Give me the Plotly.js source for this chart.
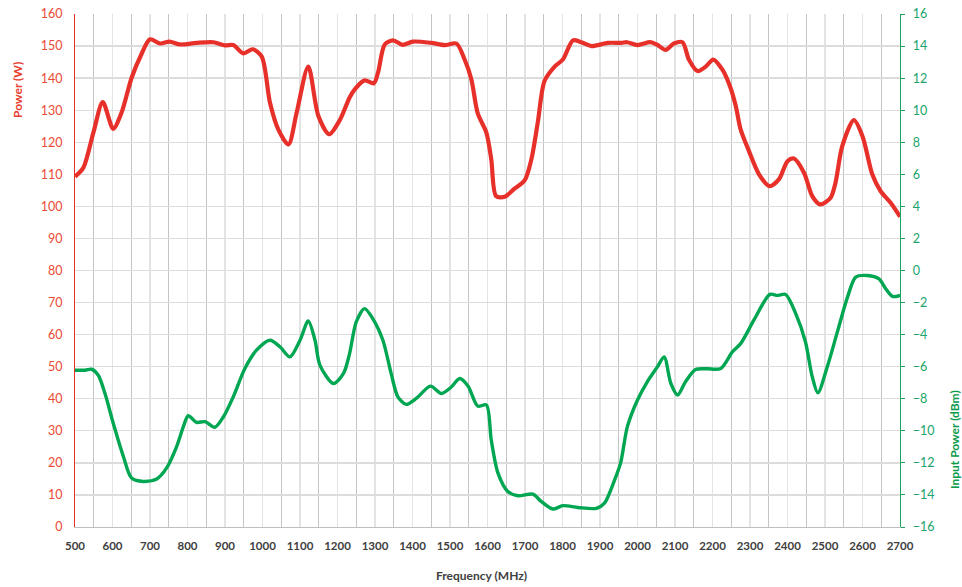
<!DOCTYPE html>
<html>
<head>
<meta charset="utf-8">
<script src="https://cdn.plot.ly/plotly-3.0.1.min.js"></script>
<style>html,body{margin:0;padding:0;background:#fff;}#chart{width:962px;height:587px;}</style>
</head>
<body>
<div id="chart"></div>
<script>
// Output power (W), left axis
const powerFreq = [500,522,549,574,602,624,651,675,700,727,752,780,824,869,900,922,949,974,998,1020,1042,1069,1091,1122,1149,1178,1207,1232,1246,1272,1297,1308,1326,1348,1374,1401,1450,1486,1517,1539,1557,1574,1597,1610,1623,1646,1672,1699,1717,1734,1752,1779,1801,1828,1850,1877,1921,1957,1972,2000,2034,2051,2075,2097,2120,2137,2160,2182,2202,2226,2248,2262,2275,2297,2324,2352,2377,2400,2417,2444,2466,2487,2515,2528,2546,2577,2600,2626,2648,2675,2700];
const powerW = [109.3,112,123,132.5,124.2,129.2,140.1,146.9,152.1,150.8,151.4,150.5,151,151.2,150.2,150.3,147.7,149,146.7,132.3,124,119.3,129.2,143.6,128.2,122.5,127.1,133.9,136.5,139.3,138.4,141.7,150.5,151.8,150.4,151.4,151,150.3,150.8,145.8,139.6,129,123,114.7,103.2,103,105.5,108.1,114.7,126.1,139.1,143.6,145.8,151.8,151.2,150,151,151,151.2,150.3,151.2,150.5,148.8,150.8,151.2,145.8,142.2,143.6,145.8,142.7,137,131.3,124,117.3,110,106.3,108.4,114.1,114.9,110.5,103.2,100.6,102.7,107.4,118.8,126.9,121.9,110,104.8,101.1,96.8];

// Input power (dBm), right axis
const inputFreq = [500,527,544,562,580,602,629,651,682,718,744,771,789,802,824,847,873,896,922,953,984,1020,1047,1073,1100,1122,1140,1153,1189,1216,1232,1250,1272,1294,1321,1343,1361,1383,1410,1448,1477,1502,1526,1548,1574,1597,1610,1628,1654,1681,1721,1743,1774,1801,1841,1890,1912,1939,1955,1973,2000,2026,2053,2071,2089,2107,2128,2155,2186,2222,2253,2275,2311,2353,2373,2395,2422,2448,2466,2481,2506,2533,2560,2582,2613,2644,2662,2680,2700];
const inputDbm = [-6.22,-6.22,-6.16,-6.53,-7.67,-9.53,-11.6,-12.95,-13.16,-13,-12.33,-10.98,-9.74,-9.06,-9.47,-9.43,-9.78,-9.12,-7.88,-6.11,-4.97,-4.35,-4.77,-5.39,-4.35,-3.15,-4.35,-5.9,-7.05,-6.42,-5.2,-3.21,-2.38,-3.0,-4.35,-6.42,-7.88,-8.35,-7.98,-7.21,-7.67,-7.3,-6.74,-7.21,-8.46,-8.39,-10.57,-12.64,-13.78,-14.05,-13.95,-14.4,-14.88,-14.67,-14.78,-14.84,-14.51,-13.06,-12.0,-9.74,-8.08,-6.94,-6.01,-5.39,-7.05,-7.77,-6.94,-6.18,-6.13,-6.11,-5.08,-4.56,-3.07,-1.49,-1.55,-1.49,-2.69,-4.46,-6.63,-7.63,-6.01,-3.83,-1.66,-0.41,-0.31,-0.52,-1.14,-1.62,-1.55];

const RED = '#e8302a';
const GREEN = '#00a651';
const FONT = 'Lato, "Liberation Sans", sans-serif';

const traces = [
  {x: powerFreq, y: powerW, type: 'scatter', mode: 'lines', name: 'Power (W)',
   line: {color: RED, width: 4.2, shape: 'spline', smoothing: 0.8}, yaxis: 'y'},
  {x: inputFreq, y: inputDbm, type: 'scatter', mode: 'lines', name: 'Input Power (dBm)',
   line: {color: GREEN, width: 3.4, shape: 'spline', smoothing: 0.8}, yaxis: 'y2'}
];

const layout = {
  width: 962, height: 587,
  margin: {l: 75, r: 62, t: 14, b: 60},
  paper_bgcolor: '#fff', plot_bgcolor: '#fff',
  showlegend: false,
  font: {family: FONT},
  xaxis: {
    range: [500, 2700], tick0: 500, dtick: 100,
    showgrid: true, gridcolor: '#e3e3e3', gridwidth: 1.3,
    minor: {tick0: 550, dtick: 100, showgrid: true, gridcolor: '#c4c4c4', gridwidth: 1},
    showline: true, linecolor: '#bfbfbf', linewidth: 1,
    zeroline: false,
    ticks: 'outside', ticklen: 8, tickcolor: 'rgba(0,0,0,0)',
    tickfont: {size: 11.5, color: '#404040', family: FONT, weight: 'bold'}
  },
  yaxis: {
    range: [0, 160], dtick: 10,
    showgrid: true, gridcolor: '#dcdcdc', gridwidth: 1.3,
    showline: true, linecolor: RED, linewidth: 1,
    zeroline: false,
    ticks: 'outside', ticklen: 9, tickcolor: 'rgba(0,0,0,0)',
    tickfont: {size: 12.5, color: '#ea4a35', family: FONT}
  },
  yaxis2: {
    range: [-16, 16], dtick: 2, overlaying: 'y', side: 'right',
    showgrid: false, zeroline: false,
    showline: true, linecolor: '#1aa35f', linewidth: 1.2,
    ticks: 'outside', ticklen: 4, tickcolor: '#1aa35f',
    ticklabelstandoff: 5,
    tickfont: {size: 12.5, color: '#1aa36a', family: FONT}
  },
  annotations: [
    {text: 'Power (W)', xref: 'paper', yref: 'paper', x: -0.069, y: 0.852,
     xanchor: 'center', yanchor: 'middle', textangle: -90, showarrow: false,
     font: {size: 12, color: '#e8402f', family: FONT, weight: 'bold'}},
    {text: 'Input Power (dBm)', xref: 'paper', yref: 'paper', x: 1.067, y: 0.17,
     xanchor: 'center', yanchor: 'middle', textangle: -90, showarrow: false,
     font: {size: 12, color: '#0a9a4a', family: FONT, weight: 'bold'}},
    {text: 'Frequency (MHz)', xref: 'paper', yref: 'paper', x: 0.493, y: -0.0955,
     xanchor: 'center', yanchor: 'middle', showarrow: false,
     font: {size: 12, color: '#404040', family: FONT, weight: 'bold'}}
  ]
};

Plotly.newPlot('chart', traces, layout, {displayModeBar: false, staticPlot: true});
</script>
</body>
</html>
